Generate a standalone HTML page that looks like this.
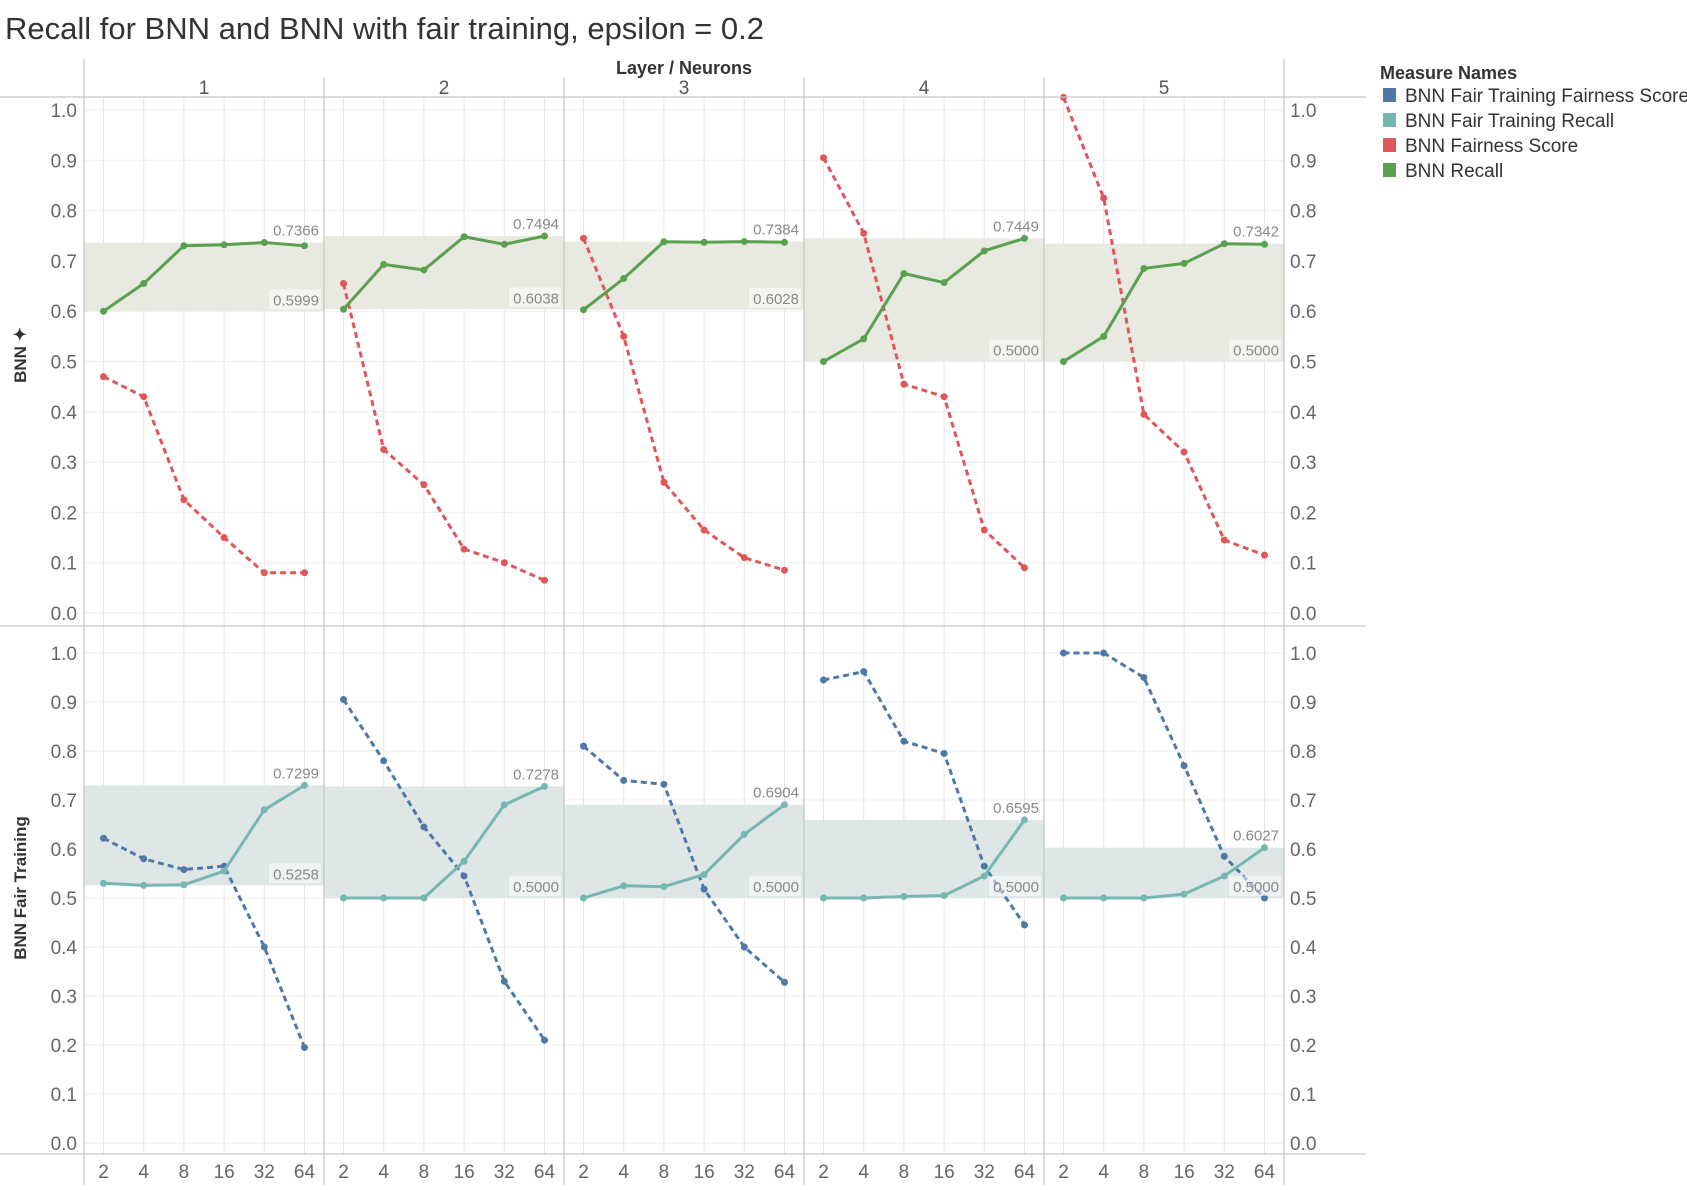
<!DOCTYPE html>
<html><head><meta charset="utf-8"><style>
body{margin:0;background:#fff;width:1687px;height:1185px;overflow:hidden;font-family:"Liberation Sans Narrow","Liberation Sans",sans-serif;}
</style></head><body>
<svg id="chart" width="1687" height="1185" xmlns="http://www.w3.org/2000/svg">
<text x="5" y="39" font-size="31" fill="#333" font-family="Liberation Sans Narrow, Liberation Sans, sans-serif">Recall for BNN and BNN with fair training, epsilon = 0.2</text>
<g id="g"></g>
</svg>
<script>
const neurons=["2","4","8","16","32","64"];
const layers=["1","2","3","4","5"];
const yTicks=["0.0","0.1","0.2","0.3","0.4","0.5","0.6","0.7","0.8","0.9","1.0"];
const bnnRecall=[[0.5999,0.655,0.730,0.732,0.7366,0.730],[0.6038,0.693,0.682,0.748,0.733,0.7494],[0.6028,0.665,0.738,0.737,0.7384,0.737],[0.5000,0.545,0.675,0.657,0.720,0.7449],[0.5000,0.550,0.685,0.695,0.7342,0.733]];
const bnnFair=[[0.47,0.43,0.225,0.15,0.08,0.08],[0.655,0.325,0.255,0.127,0.10,0.065],[0.745,0.55,0.26,0.165,0.11,0.085],[0.905,0.755,0.455,0.43,0.165,0.09],[1.025,0.825,0.395,0.32,0.145,0.115]];
const ftRecall=[[0.53,0.5258,0.527,0.555,0.68,0.7299],[0.5,0.5,0.5,0.575,0.69,0.7278],[0.5,0.525,0.523,0.548,0.63,0.6904],[0.5,0.5,0.503,0.505,0.545,0.6595],[0.5,0.5,0.5,0.508,0.545,0.6027]];
const ftFair=[[0.622,0.58,0.558,0.565,0.40,0.195],[0.905,0.78,0.645,0.545,0.33,0.21],[0.81,0.74,0.732,0.518,0.40,0.328],[0.945,0.962,0.82,0.795,0.565,0.445],[1.0,1.0,0.95,0.77,0.585,0.5]];
const legendNames=["BNN Fair Training Fairness Score","BNN Fair Training Recall","BNN Fairness Score","BNN Recall"];
const legendColors=["#4e79a7","#76b7b2","#e15759","#59a14f"];

const NS="http://www.w3.org/2000/svg";
const g=document.getElementById('g');
function el(t,a,p){const e=document.createElementNS(NS,t);for(const k in a)e.setAttribute(k,a[k]);(p||g).appendChild(e);return e;}
const X0=84,CW=240,RIGHT=1284,END=1366;
function xPos(c,i){return X0+c*CW+19.5+i*40.2;}
const panels=[{y1:110,y0:613,top:97,bot:626},{y1:653,y0:1143,top:626,bot:1154}];
function yPos(p,v){return p.y0-(p.y0-p.y1)*v;}
const font="Liberation Sans Narrow, Liberation Sans, sans-serif";

// gridlines
panels.forEach((p,pi)=>{
  yTicks.forEach((t,k)=>{
    const y=yPos(p,k/10);
    const l=el('line',{x1:X0,x2:RIGHT,y1:y,y2:y,stroke:'#eeeeee','stroke-width':1});
    
    const tl=el('text',{x:77,y:y+7,'text-anchor':'end','font-size':19,fill:'#666','font-family':font});tl.textContent=t;
    
    const tr=el('text',{x:1290,y:y+7,'font-size':19,fill:'#666','font-family':font});tr.textContent=t;
    
  });
  layers.forEach((L,c)=>{
    neurons.forEach((n,i)=>{
      const x=xPos(c,i);
      const l=el('line',{x1:x,x2:x,y1:p.top,y2:p.bot,stroke:'#e6e6e6','stroke-width':1});
      
    });
  });
});
// bands
const sets=[[bnnRecall,bnnFair,'#59a14f','#e15759','#e8e9e0'],[ftRecall,ftFair,'#76b7b2','#4e79a7','#dfe6e6']];
sets.forEach((s,pi)=>{
  const p=panels[pi];
  layers.forEach((L,c)=>{
    const r=s[0][c];const mx=Math.max(...r),mn=Math.min(...r);
    const b=el('rect',{x:X0+c*CW,y:yPos(p,mx),width:CW,height:yPos(p,mn)-yPos(p,mx),fill:s[4]});
    
  });
});
// lines
sets.forEach((s,pi)=>{
  const p=panels[pi];
  layers.forEach((L,c)=>{
    [[s[1][c],s[3],true],[s[0][c],s[2],false]].forEach(([vals,col,dash])=>{
      const pts=vals.map((v,i)=>xPos(c,i)+','+yPos(p,v)).join(' ');
      const pl=el('polyline',{points:pts,fill:'none',stroke:col,'stroke-width':3,'stroke-dasharray':dash?'6,4':'none','stroke-linejoin':'round'});
      
      vals.forEach((v,i)=>{const d=el('circle',{cx:xPos(c,i),cy:yPos(p,v),r:3.5,fill:col});
        });
    });
    const r=s[0][c];const mx=Math.max(...r),mn=Math.min(...r);
    const xr=X0+(c+1)*CW-5;
    const t1=el('text',{x:xr,y:yPos(p,mx)-7,'text-anchor':'end','font-size':15,fill:'#888','font-family':font});t1.textContent=mx.toFixed(4);
    
    const bg=el('rect',{x:xr-50,y:yPos(p,mn)-22,width:52,height:20,fill:'#fff','fill-opacity':0.5});
    
    const t2=el('text',{x:xr,y:yPos(p,mn)-6,'text-anchor':'end','font-size':15,fill:'#888','font-family':font});t2.textContent=mn.toFixed(4);
    
  });
});
// frame lines
function ln(a,name){const l=el('line',Object.assign({stroke:'#c8c8c8','stroke-width':1.3},a));}
ln({x1:0,x2:END,y1:97,y2:97},'header-line');
ln({x1:0,x2:END,y1:626,y2:626},'panel-divider');
ln({x1:0,x2:END,y1:1154,y2:1154},'x-axis-line');
ln({x1:X0,x2:X0,y1:59,y2:1185},'left-border');
ln({x1:RIGHT,x2:RIGHT,y1:59,y2:1185},'right-border');
layers.forEach((L,c)=>{
  if(c>0)ln({x1:X0+c*CW,x2:X0+c*CW,y1:78,y2:1185},'column-divider');
  const t=el('text',{x:X0+c*CW+CW/2,y:94,'text-anchor':'middle','font-size':19,fill:'#555','font-family':font});t.textContent=L;
  
  neurons.forEach((n,i)=>{const tt=el('text',{x:xPos(c,i),y:1178,'text-anchor':'middle','font-size':19,fill:'#666','font-family':font});tt.textContent=n;
    });
});
const h=el('text',{x:684,y:74,'text-anchor':'middle','font-size':18,'font-weight':'bold',fill:'#333','font-family':font});h.textContent='Layer / Neurons';

const ya=el('text',{x:0,y:0,transform:'translate(26,355) rotate(-90)','text-anchor':'middle','font-size':17,'font-weight':'bold',fill:'#333','font-family':'Liberation Sans, sans-serif'});ya.textContent='BNN ✦';

const yb=el('text',{x:0,y:0,transform:'translate(26,888) rotate(-90)','text-anchor':'middle','font-size':17,'font-weight':'bold',fill:'#333','font-family':'Liberation Sans, sans-serif'});yb.textContent='BNN Fair Training';

// legend
const lt=el('text',{x:1380,y:79,'font-size':18,'font-weight':'bold',fill:'#333','font-family':font});lt.textContent='Measure Names';

legendNames.forEach((n,i)=>{
  const y=88+i*25;
  const r=el('rect',{x:1383,y:y,width:13,height:14,fill:legendColors[i]});
  
  const t=el('text',{x:1405,y:y+14,'font-size':19,fill:'#333','font-family':font});t.textContent=n;
  
});
</script>
</body></html>
